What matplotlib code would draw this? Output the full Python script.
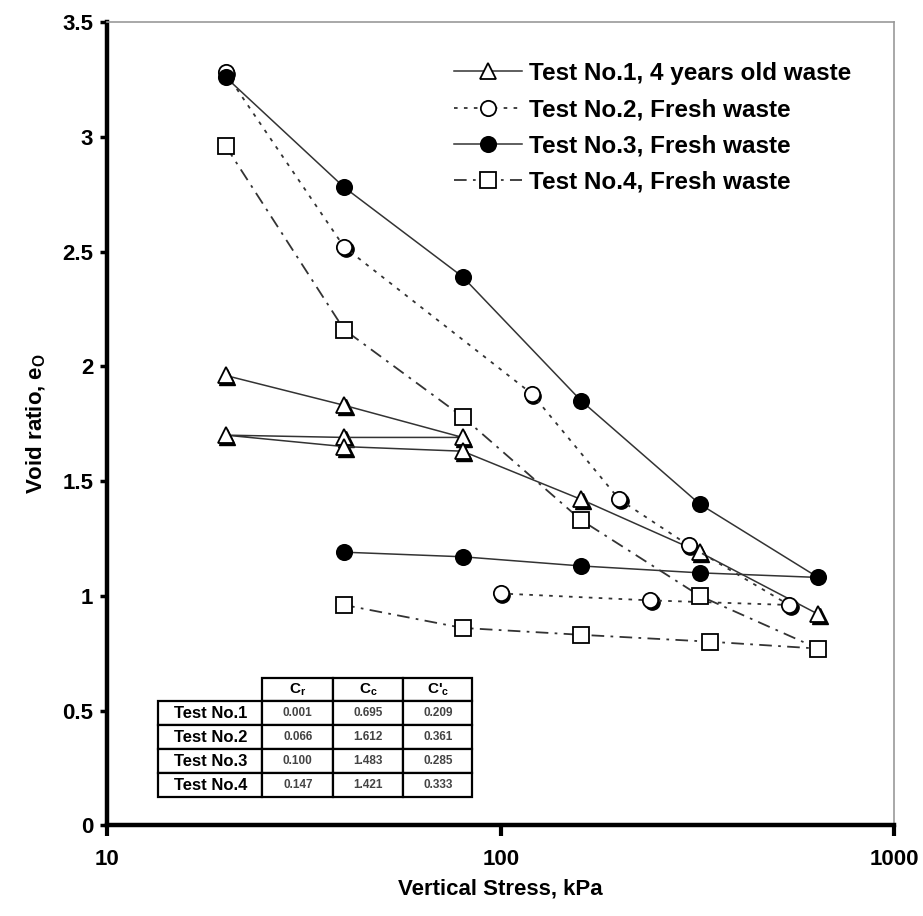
import matplotlib
matplotlib.use("Agg")
import matplotlib.pyplot as plt
import matplotlib.transforms as mtransforms
from matplotlib.ticker import FuncFormatter, FixedLocator, NullLocator

plt.rcParams['font.family'] = ['Liberation Sans', 'DejaVu Sans']

# Test No.1, 4 years old waste (load - unload - reload path)
t1_x = [20, 40, 80, 40, 20, 40, 80, 160, 320, 640]
t1_y = [1.96, 1.83, 1.69, 1.69, 1.70, 1.65, 1.63, 1.42, 1.19, 0.92]
# Test No.2, Fresh waste
t2_x = [20, 40, 120, 200, 300, 540, 240, 100]
t2_y = [3.28, 2.52, 1.88, 1.42, 1.22, 0.96, 0.98, 1.01]
# Test No.3, Fresh waste
t3_x = [20, 40, 80, 160, 320, 640, 320, 160, 80, 40]
t3_y = [3.26, 2.78, 2.39, 1.85, 1.40, 1.08, 1.10, 1.13, 1.17, 1.19]
# Test No.4, Fresh waste
t4_x = [20, 40, 80, 160, 320, 640, 340, 160, 80, 40]
t4_y = [2.96, 2.16, 1.78, 1.33, 1.00, 0.77, 0.80, 0.83, 0.86, 0.96]

labels = ["Test No.1, 4 years old waste", "Test No.2, Fresh waste",
          "Test No.3, Fresh waste", "Test No.4, Fresh waste"]

tbl_rows = ["Test No.1", "Test No.2", "Test No.3", "Test No.4"]
tbl_cols = ["C$_\\mathregular{r}$", "C$_\\mathregular{c}$", "C'$_\\mathregular{c}$"]
tbl_vals = [["0.001", "0.695", "0.209"],
            ["0.066", "1.612", "0.361"],
            ["0.100", "1.483", "0.285"],
            ["0.147", "1.421", "0.333"]]

fig = plt.figure(figsize=(9.23, 9.16), dpi=100)
ax = fig.add_axes([0.116, 0.099, 0.853, 0.877])

# little black drop shadow under the open markers, like the original
shadow = mtransforms.offset_copy(ax.transData, fig=fig, x=1.5, y=-2.0, units="dots")
ax.plot(t1_x, t1_y, ls="none", marker="^", ms=11, mfc="black", mec="black",
        transform=shadow, zorder=1.5)
ax.plot(t2_x, t2_y, ls="none", marker="o", ms=11, mfc="black", mec="black",
        transform=shadow, zorder=1.5)

lc = "#333333"
ax.plot(t1_x, t1_y, color=lc, lw=1.1, ls="-", marker="^", ms=11,
        mfc="white", mec="black", mew=1.3, label=labels[0])
ax.plot(t2_x, t2_y, color=lc, lw=1.3, ls=(0, (2, 3.5)), marker="o", ms=11,
        mfc="white", mec="black", mew=1.3, label=labels[1])
ax.plot(t3_x, t3_y, color=lc, lw=1.1, ls="-", marker="o", ms=11,
        mfc="black", mec="black", mew=1.3, label=labels[2])
ax.plot(t4_x, t4_y, color=lc, lw=1.3, ls=(0, (7, 3.5, 1.5, 3.5)), marker="s", ms=11,
        mfc="white", mec="black", mew=1.3, label=labels[3])

ax.set_xscale("log")
ax.set_xlim(10, 1000)
ax.set_ylim(0, 3.5)
ax.xaxis.set_major_locator(FixedLocator([10, 100, 1000]))
ax.xaxis.set_minor_locator(NullLocator())
ax.xaxis.set_major_formatter(FuncFormatter(lambda v, p: "%g" % v))
ax.set_yticks([0, 0.5, 1, 1.5, 2, 2.5, 3, 3.5])
ax.yaxis.set_major_formatter(FuncFormatter(lambda v, p: "%g" % v))

for s in ["left", "bottom"]:
    ax.spines[s].set_linewidth(3.2)
    ax.spines[s].set_color("black")
for s in ["top", "right"]:
    ax.spines[s].set_linewidth(1.2)
    ax.spines[s].set_color("#999999")

ax.tick_params(axis="x", direction="out", length=8, width=3, labelsize=16, pad=9)
ax.tick_params(axis="y", direction="out", length=5, width=2.5, labelsize=16, pad=5)
for t in ax.get_xticklabels() + ax.get_yticklabels():
    t.set_fontweight("bold")

ax.set_xlabel("Vertical Stress, kPa", fontsize=16, fontweight="bold", labelpad=6)
ax.set_ylabel("Void ratio, e$_\\mathregular{O}$", fontsize=16, fontweight="bold", labelpad=10)

leg = ax.legend(loc="upper left", bbox_to_anchor=(444 / 923, 1 - 52 / 916),
                bbox_transform=fig.transFigure, borderaxespad=0, frameon=False,
                fontsize=17.5, handlelength=2.8, handletextpad=0.3, labelspacing=0.55)
for t in leg.get_texts():
    t.set_fontweight("bold")

# coefficients table
cells = [[r] + v for r, v in zip(tbl_rows, tbl_vals)]
tb = ax.table(cellText=cells, colLabels=[""] + tbl_cols,
              colWidths=[104, 71, 70, 69], bbox=[0.065, 0.035, 0.399, 0.149],
              cellLoc="center")
tb.auto_set_font_size(False)
for (r, c), cell in tb.get_celld().items():
    cell.set_linewidth(1.6)
    cell.set_edgecolor("black")
    cell.set_facecolor("white")
    if r == 0 and c == 0:
        cell.set_visible(False)
        continue
    if c == 0:
        cell.get_text().set_fontsize(12)
        cell.get_text().set_fontweight("bold")
    elif r == 0:
        cell.get_text().set_fontsize(11)
        cell.get_text().set_fontweight("bold")
    else:
        cell.get_text().set_fontsize(8.5)
        cell.get_text().set_fontweight("bold")
        cell.get_text().set_color("#444444")

fig.savefig("out.png", dpi=100)
